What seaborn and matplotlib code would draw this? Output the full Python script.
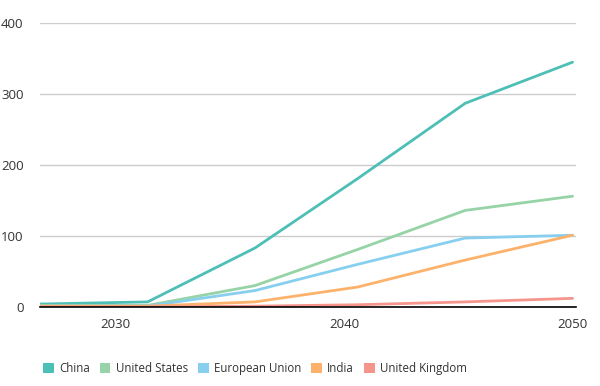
import pandas as pd
import matplotlib.pyplot as plt
import seaborn as sns
from matplotlib.patches import Patch

years = [2026.7, 2031.4, 2036.1, 2040.6, 2045.3, 2050]
china = [4, 7, 83, 181, 287, 345]
united_states = [2, 2, 30, 81, 136, 156]
european_union = [1, 1, 23, 60, 97, 101]
india = [1, 1, 7, 28, 66, 101]
united_kingdom = [0, 0, 1, 3, 7, 12]

names = ["China", "United States", "European Union", "India", "United Kingdom"]
colors = ["#4dbfb6", "#96d3a6", "#87cfee", "#fdb26c", "#f5958c"]

rows = []
for name, vals in zip(names, [china, united_states, european_union, india, united_kingdom]):
    for yr, v in zip(years, vals):
        rows.append({"year": yr, "value": v, "country": name})
df = pd.DataFrame(rows)

sns.set_style("white")
plt.rcParams['font.family'] = ['Open Sans', 'DejaVu Sans']

fig = plt.figure(figsize=(6, 3.86), dpi=100)
ax = fig.add_axes([0.067, 0.205, 0.893, 0.735])

sns.lineplot(data=df, x="year", y="value", hue="country", hue_order=names,
             palette=colors, linewidth=2, ax=ax, legend=False, zorder=3)

ax.set_xlim(2026.7, 2050.15)
ax.set_ylim(0, 400)
ax.set_yticks([0, 100, 200, 300, 400])
ax.set_xticks([2030, 2040, 2050])
ax.set_xlabel("")
ax.set_ylabel("")
ax.grid(axis="y", color="#cccccc", linewidth=1)
ax.grid(axis="x", visible=False)
for s in ["left", "right", "top"]:
    ax.spines[s].set_visible(False)
ax.spines["bottom"].set_color("black")
ax.spines["bottom"].set_linewidth(1.2)
ax.spines["bottom"].set_zorder(4)
ax.tick_params(axis="both", length=0, labelsize=9.5, colors="#333333")
ax.tick_params(axis="y", pad=12)
ax.tick_params(axis="x", pad=8)

handles = [Patch(facecolor=c, edgecolor="none") for c in colors]
fig.legend(handles, names, loc="center left", bbox_to_anchor=(0.055, 0.045), ncol=5,
           frameon=False, fontsize=8.3, handlelength=0.9, handleheight=0.9,
           handletextpad=0.45, columnspacing=0.9, labelcolor="#333333")

fig.savefig("out.png", dpi=100)
